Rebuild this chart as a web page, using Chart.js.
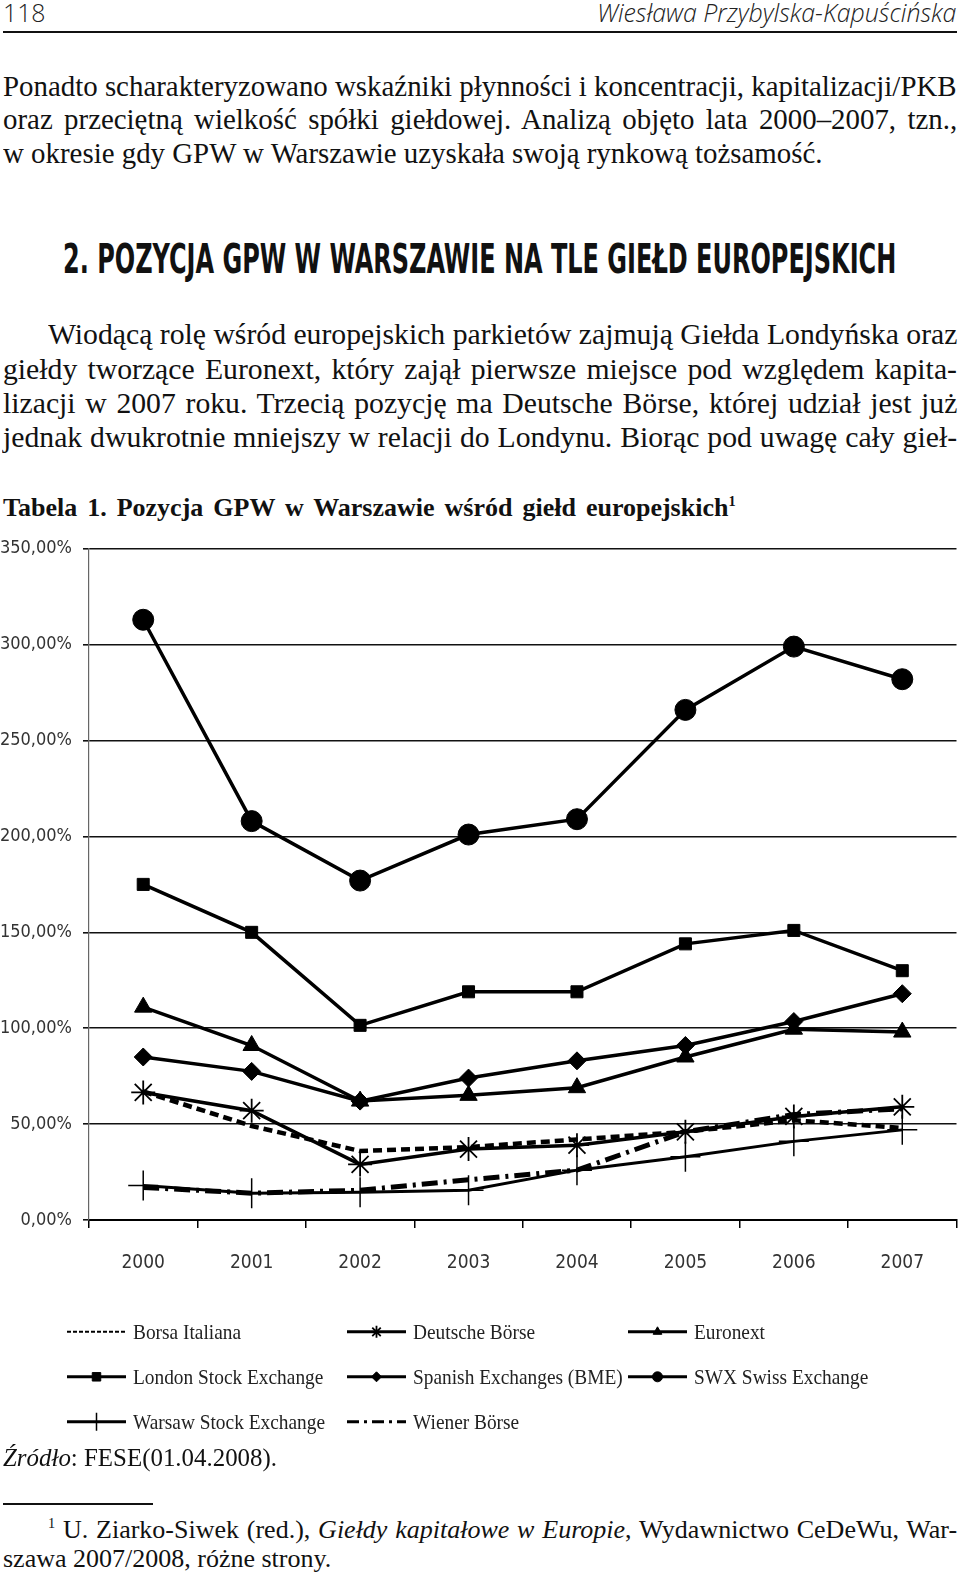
<!DOCTYPE html>
<html lang="pl">
<head>
<meta charset="utf-8">
<title>Pozycja GPW w Warszawie wśród giełd europejskich</title>
<script src="https://cdn.jsdelivr.net/npm/chart.js@4.4.1/dist/chart.umd.min.js"></script>
<style>
  html, body { margin: 0; padding: 0; background: #fff; }
  body { width: 960px; height: 1576px; position: relative; overflow: hidden; color: #111; }
  .ln { position: absolute; white-space: nowrap; display: inline-block; transform-origin: 0 0; }
  .serif { font-family: "Liberation Serif", "Times New Roman", serif; }
  .body { font-size: 30px; line-height: 1.2; }
  .foot { font-size: 26px; line-height: 1.2; }
  .head { font-family: "Open Sans", "DejaVu Sans", sans-serif; font-weight: 300; font-size: 26px; line-height: 1.2; color: #222; }
  .h2 { font-family: "DejaVu Sans Condensed", sans-serif; font-weight: bold; font-size: 40px; line-height: 1.2; }
  .tab { font-weight: bold; font-size: 26px; line-height: 1.2; }
  sup { font-size: 0.55em; vertical-align: 0.7em; line-height: 0; }
  .rule { position: absolute; background: #111; }
  #chartBox { position: absolute; left: 0; top: 535px; }
  #chartBox canvas { display: block; }
</style>
</head>
<body>

<div class="ln head" style="left:3px; top:-3px;" data-w="43" data-mode="scale">118</div>
<div class="ln head" style="left:597px; top:-3px; font-style:italic;" data-w="359" data-mode="scale">Wiesława Przybylska-Kapuścińska</div>
<div class="rule" style="left:3px; top:31px; width:954px; height:2px;"></div>

<div class="ln serif body" style="left:3px; top:68px;" data-w="954" data-mode="just" data-g="p1">Ponadto scharakteryzowano wskaźniki płynności i koncentracji, kapitalizacji/PKB</div>
<div class="ln serif body" style="left:3px; top:101px;" data-w="954" data-mode="just" data-g="p1">oraz przeciętną wielkość spółki giełdowej. Analizą objęto lata 2000–2007, tzn.,</div>
<div class="ln serif body" style="left:3px; top:135px;" data-w="954" data-mode="left" data-g="p1">w okresie gdy GPW w Warszawie uzyskała swoją rynkową tożsamość.</div>

<div class="ln h2" style="left:63px; top:235px;" data-w="833" data-mode="scale">2. POZYCJA GPW W WARSZAWIE NA TLE GIEŁD EUROPEJSKICH</div>

<div class="ln serif body" style="left:48px; top:316px;" data-w="909" data-mode="just" data-g="p2">Wiodącą rolę wśród europejskich parkietów zajmują Giełda Londyńska oraz</div>
<div class="ln serif body" style="left:3px; top:351px;" data-w="954" data-mode="just" data-g="p2">giełdy tworzące Euronext, który zajął pierwsze miejsce pod względem kapita-</div>
<div class="ln serif body" style="left:3px; top:385px;" data-w="954" data-mode="just" data-g="p2">lizacji w 2007 roku. Trzecią pozycję ma Deutsche Börse, której udział jest już</div>
<div class="ln serif body" style="left:3px; top:419px;" data-w="954" data-mode="just" data-g="p2">jednak dwukrotnie mniejszy w relacji do Londynu. Biorąc pod uwagę cały gieł-</div>

<div class="ln serif tab" style="left:3px; top:492px;" data-w="733" data-mode="just" data-g="tab">Tabela 1. Pozycja GPW w Warszawie wśród giełd europejskich<sup>1</sup></div>

<div id="chartBox"><canvas id="chart" width="960" height="905"></canvas></div>

<div class="ln serif" style="left:3px; top:1443px; font-size:25px; line-height:1.2;" data-w="274" data-mode="scale"><i>Źródło</i>: FESE(01.04.2008).</div>
<div class="rule" style="left:3px; top:1503px; width:150px; height:1.5px;"></div>
<div class="ln serif foot" style="left:48px; top:1514px;" data-w="909" data-mode="just" data-g="fn"><sup>1</sup> U. Ziarko-Siwek (red.), <i>Giełdy kapitałowe w Europie</i>, Wydawnictwo CeDeWu, War-</div>
<div class="ln serif foot" style="left:3px; top:1543px;" data-w="954" data-mode="left" data-g="fn">szawa 2007/2008, różne strony.</div>

<script>
// lata i udział w kapitalizacji (%)
const years = ['2000', '2001', '2002', '2003', '2004', '2005', '2006', '2007'];
const borsaItaliana = [67, 49, 36, 38, 42, 46, 52, 48];
const deutscheBorse = [66.5, 57, 29, 37, 39, 46, 54, 59];
const euronext = [111, 91, 62, 65, 69, 85, 99.5, 98];
const londonSE = [175, 150, 101.5, 119, 119, 144, 151, 130];
const spanishBME = [85, 77.5, 62, 74, 83, 91, 103.5, 118];
const swxSwiss = [313, 208, 177, 201, 209, 266, 299, 282];
const warsawSE = [18, 14, 14.5, 15.5, 26, 33, 41, 47];
const wienerBorse = [17, 14, 15.5, 21, 26, 46, 55, 58];

const yTicks = [0, 50, 100, 150, 200, 250, 300, 350];

// fit text lines to the justified widths of the page
function fitLines() {
    const els = Array.from(document.querySelectorAll('[data-w]'));
    const groups = {};
    els.forEach(el => {
        el.style.wordSpacing = '0px';
        el.style.transform = 'none';
        el._nat = el.offsetWidth;
        const g = el.dataset.g;
        if (g && el.dataset.mode === 'just') {
            const s = +el.dataset.w / el._nat;
            groups[g] = Math.min(groups[g] === undefined ? 1 : groups[g], s);
        }
    });
    els.forEach(el => {
        const w = +el.dataset.w;
        const mode = el.dataset.mode;
        if (mode === 'scale') {
            el.style.transform = `scaleX(${w / el._nat})`;
            return;
        }
        const s = groups[el.dataset.g] === undefined ? 1 : groups[el.dataset.g];
        el.style.transform = `scaleX(${s})`;
        if (mode === 'just') {
            const spaces = (el.textContent.match(/ /g) || []).length;
            const extra = (w / s - el._nat) / Math.max(spaces, 1);
            el.style.wordSpacing = extra + 'px';
        }
    });
}
fitLines();
if (document.fonts && document.fonts.ready) document.fonts.ready.then(fitLines);

// where the plot area sits on the page
const plotLeft = 89, plotTop = 549, plotRight = 956, plotBottom = 1220;
const legendX = [67, 347, 628];
const legendY = [1332, 1377, 1422];

function drawMarker(ctx, style, radius, bw, x, y) {
    if (Chart.helpers && Chart.helpers.drawPoint) {
        Chart.helpers.drawPoint(ctx, {pointStyle: style, radius: radius, rotation: 0, borderWidth: bw}, x, y);
    } else {
        ctx.beginPath();
        ctx.arc(x, y, radius, 0, Math.PI * 2);
        ctx.fill();
    }
}

const gridLegend = {
    id: 'gridLegend',
    afterDraw(chart) {
        const ctx = chart.ctx;
        const ox = plotLeft - chart.chartArea.left;
        const oy = plotTop - chart.chartArea.top;
        chart.data.datasets.forEach((ds, i) => {
            const x0 = legendX[i % 3] - ox;
            const y = legendY[Math.floor(i / 3)] - oy;
            ctx.save();
            ctx.strokeStyle = '#000';
            ctx.fillStyle = '#000';
            ctx.lineWidth = ds.legendWidth;
            ctx.setLineDash(ds.legendDash || []);
            ctx.beginPath();
            ctx.moveTo(x0, y);
            ctx.lineTo(x0 + 59, y);
            ctx.stroke();
            ctx.setLineDash([]);
            if (ds.pointRadius > 0) {
                ctx.lineWidth = ds.pointBorderWidth;
                drawMarker(ctx, ds.pointStyle, ds.legendRadius, ds.pointBorderWidth, x0 + 29.5, y);
            }
            ctx.font = '22px "Liberation Serif", serif';
            ctx.textBaseline = 'middle';
            ctx.fillStyle = '#222';
            ctx.translate(x0 + 66, y + 1);
            ctx.scale(0.88, 1);
            ctx.fillText(ds.label, 0, 0);
            ctx.restore();
        });
    }
};

function series(label, data, extra) {
    return Object.assign({
        label: label,
        data: data,
        borderColor: '#000',
        backgroundColor: '#000',
        pointBackgroundColor: '#000',
        pointBorderColor: '#000',
        borderWidth: 3.5,
        tension: 0,
        fill: false,
        legendWidth: 3,
        legendRadius: 5,
        pointBorderWidth: 1
    }, extra);
}

const tickFont = {family: '"DejaVu Sans Condensed", sans-serif', size: 18};

function buildChart(w, h) {
    const canvas = document.getElementById('chart');
    canvas.width = w;
    canvas.height = h;
    return new Chart(canvas, {
        type: 'line',
        data: {
            labels: years,
            datasets: [
                series('Borsa Italiana', borsaItaliana, {borderDash: [9, 5], borderWidth: 4.5, pointRadius: 0, legendDash: [4, 2], legendWidth: 2}),
                series('Deutsche Börse', deutscheBorse, {pointStyle: 'star', pointRadius: 12, pointBorderWidth: 1.8, legendRadius: 6}),
                series('Euronext', euronext, {pointStyle: 'triangle', pointRadius: 10}),
                series('London Stock Exchange', londonSE, {pointStyle: 'rect', pointRadius: 8.5, legendRadius: 6}),
                series('Spanish Exchanges (BME)', spanishBME, {pointStyle: 'rectRot', pointRadius: 9}),
                series('SWX Swiss Exchange', swxSwiss, {pointStyle: 'circle', pointRadius: 10.5}),
                series('Warsaw Stock Exchange', warsawSE, {pointStyle: 'cross', pointRadius: 15, pointBorderWidth: 1.5, borderWidth: 3, legendRadius: 9}),
                series('Wiener Börse', wienerBorse, {borderDash: [16, 6, 3, 6], borderWidth: 5, pointRadius: 0, legendDash: [12, 5, 3, 5]})
            ]
        },
        options: {
            responsive: false,
            animation: false,
            devicePixelRatio: 1,
            layout: {padding: {top: 0, right: 0, bottom: 170, left: 0}},
            plugins: {legend: {display: false}, tooltip: {enabled: false}},
            elements: {point: {hoverRadius: 0}},
            scales: {
                x: {
                    offset: true,
                    grid: {offset: true, drawOnChartArea: false, drawTicks: true, tickLength: 8, color: '#000', lineWidth: 1.5},
                    border: {display: true, color: '#000', width: 2},
                    ticks: {padding: 24, color: '#333', font: {family: tickFont.family, size: 19}},
                    afterFit: s => { s.height = 64; }
                },
                y: {
                    min: 0,
                    max: 350,
                    afterBuildTicks: s => { s.ticks = yTicks.map(v => ({value: v})); },
                    grid: {color: '#111', lineWidth: 1.6, tickLength: 6},
                    border: {display: true, color: '#666', width: 1.2},
                    ticks: {
                        padding: 11,
                        color: '#333',
                        font: tickFont,
                        callback: v => v.toFixed(2).replace('.', ',') + '%'
                    },
                    afterFit: s => { s.width = 89; }
                }
            }
        },
        plugins: [gridLegend]
    });
}

// first pass to learn the library's paddings, then size the canvas so the plot area lands in place
let chart = buildChart(960, 905);
let ca = chart.chartArea;
const dw = (plotRight - plotLeft) - (ca.right - ca.left);
const dh = (plotBottom - plotTop) - (ca.bottom - ca.top);
chart.destroy();
chart = buildChart(Math.round(960 + dw), Math.round(905 + dh));
ca = chart.chartArea;
const box = document.getElementById('chartBox');
box.style.left = (plotLeft - ca.left) + 'px';
box.style.top = (plotTop - ca.top) + 'px';
</script>
</body>
</html>
